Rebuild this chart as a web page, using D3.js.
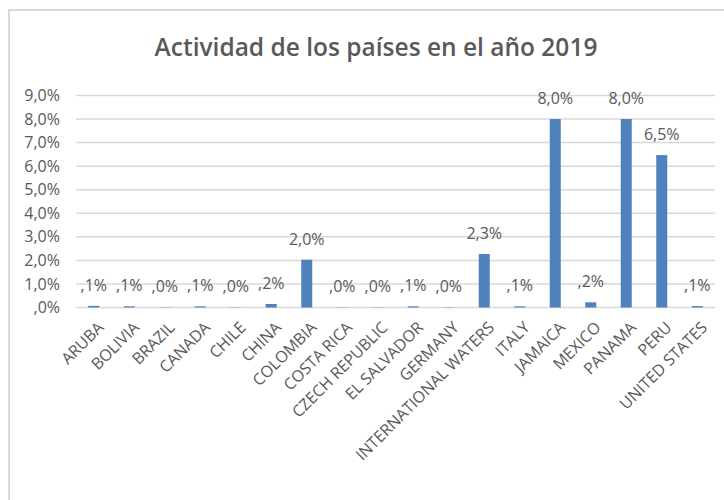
<!DOCTYPE html>
<html>
<head>
<meta charset="utf-8">
<script src="https://cdn.jsdelivr.net/npm/d3@7"></script>
<style>
html, body { margin: 0; padding: 0; background: #fff; }
svg { display: block; }
</style>
</head>
<body>
<svg id="chart" width="724" height="500"></svg>
<script>
const titleText = "Actividad de los países en el año 2019";
const categories = ["ARUBA","BOLIVIA","BRAZIL","CANADA","CHILE","CHINA","COLOMBIA","COSTA RICA","CZECH REPUBLIC","EL SALVADOR","GERMANY","INTERNATIONAL WATERS","ITALY","JAMAICA","MEXICO","PANAMA","PERU","UNITED STATES"];
const values = [0.07, 0.05, 0.01, 0.05, 0.01, 0.15, 2.03, 0.01, 0.01, 0.05, 0.01, 2.27, 0.05, 8.0, 0.22, 8.0, 6.47, 0.06];
const yTicks = [0,1,2,3,4,5,6,7,8,9];

const svg = d3.select("#chart");
const textColor = "#595959";
const fontFam = "'Open Sans', 'Noto Sans', sans-serif";

// chart border
svg.append("rect").attr("x", 9).attr("y", 10).attr("width", 740).attr("height", 520)
  .attr("fill", "#fff").attr("stroke", "#d9d9d9").attr("stroke-width", 2);

// title
svg.append("text").attr("x", 376).attr("y", 56).attr("text-anchor", "middle")
  .attr("font-family", fontFam).attr("font-size", 24.5).attr("font-weight", 600)
  .attr("fill", textColor).text(titleText);

const x = d3.scaleBand().domain(categories).range([76, 715]).paddingInner(0.69).paddingOuter(0.345);
const y = d3.scaleLinear().domain([0, 9]).range([307.5, 95.5]);

// gridlines
svg.append("g").selectAll("line").data(yTicks).join("line")
  .attr("x1", 76).attr("x2", 715)
  .attr("y1", d => y(d)).attr("y2", d => y(d))
  .attr("stroke", "#d9d9d9").attr("stroke-width", 1.5);

// y axis labels
const fmt = v => { let s = (Math.round(v * 10) / 10).toFixed(1).replace(".", ","); if (s.startsWith("0")) s = s.slice(1); return s + "%"; };
const yAxis = d3.axisLeft(y).tickValues(yTicks).tickSize(0).tickPadding(0).tickFormat(fmt);
const ya = svg.append("g").attr("transform", "translate(60,0)").call(yAxis);
ya.select(".domain").remove();
ya.selectAll("text").attr("font-family", fontFam).attr("font-size", 16).attr("fill", textColor);

// bars
svg.append("g").selectAll("rect").data(values).join("rect")
  .attr("x", (d, i) => x(categories[i]))
  .attr("width", x.bandwidth())
  .attr("y", d => y(d))
  .attr("height", d => y(0) - y(d))
  .attr("fill", "#4f81bd");

// data labels
svg.append("g").selectAll("text").data(values).join("text")
  .attr("x", (d, i) => x(categories[i]) + x.bandwidth() / 2)
  .attr("y", d => y(d) - 15)
  .attr("text-anchor", "middle")
  .attr("font-family", fontFam).attr("font-size", 16).attr("fill", textColor)
  .text(fmt);

// x axis labels
const xAxis = d3.axisBottom(x).tickSize(0).tickPadding(0);
const xa = svg.append("g").attr("transform", "translate(0,307.5)").call(xAxis);
xa.select(".domain").remove();
xa.selectAll("text")
  .attr("font-family", fontFam).attr("font-size", 16).attr("fill", textColor)
  .attr("text-anchor", "end").attr("dy", null).attr("y", 0)
  .attr("transform", "translate(11,21) rotate(-45)");
</script>
</body>
</html>
